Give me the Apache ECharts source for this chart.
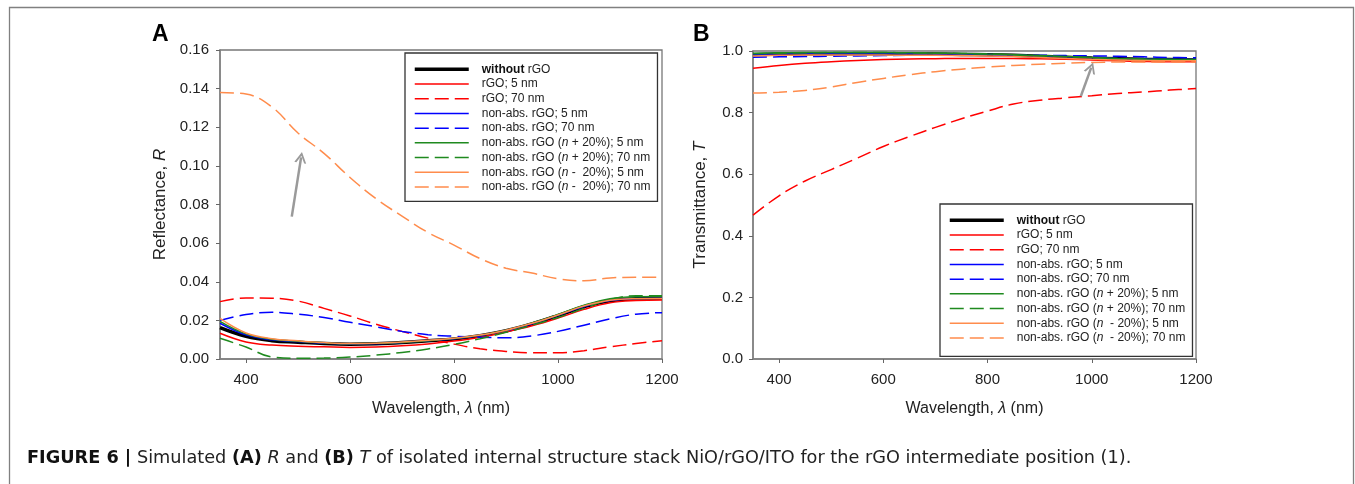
<!DOCTYPE html>
<html>
<head>
<meta charset="utf-8">
<script src="https://cdn.jsdelivr.net/npm/echarts@6/dist/echarts.min.js"></script>
<style>
html, body { margin: 0; padding: 0; background: #fff; }
#chart { width: 1355px; height: 484px; }
</style>
</head>
<body>
<div id="chart"></div>
<script>
// wavelength grid (nm)
var waves = [350, 400, 450, 500, 550, 600, 650, 700, 750, 800, 850, 900, 950, 1000, 1050, 1100, 1150, 1200];
var xTicks = [400, 600, 800, 1000, 1200];

// (A) reflectance
var rNone    = [0.0162, 0.0117, 0.0095, 0.0087, 0.0080, 0.0077, 0.0079, 0.0085, 0.0094, 0.0104, 0.0121, 0.0146, 0.0182, 0.0225, 0.0271, 0.0302, 0.0312, 0.0314];
var rRgo5    = [0.0133, 0.0088, 0.0072, 0.0066, 0.0063, 0.0060, 0.0062, 0.0068, 0.0078, 0.0093, 0.0113, 0.0140, 0.0172, 0.0212, 0.0257, 0.0291, 0.0303, 0.0306];
var rRgo70   = [0.0297, 0.0316, 0.0315, 0.0300, 0.0262, 0.0223, 0.0180, 0.0143, 0.0108, 0.0077, 0.0053, 0.0039, 0.0032, 0.0032, 0.0043, 0.0063, 0.0080, 0.0095];
var rNa5     = [0.0185, 0.0125, 0.0099, 0.0090, 0.0082, 0.0078, 0.0080, 0.0086, 0.0095, 0.0105, 0.0122, 0.0147, 0.0183, 0.0226, 0.0272, 0.0303, 0.0313, 0.0315];
var rNa70    = [0.0200, 0.0230, 0.0242, 0.0232, 0.0215, 0.0190, 0.0167, 0.0143, 0.0126, 0.0118, 0.0113, 0.0110, 0.0120, 0.0143, 0.0175, 0.0208, 0.0232, 0.0240];
var rPlus5   = [0.0195, 0.0130, 0.0102, 0.0092, 0.0084, 0.0079, 0.0081, 0.0086, 0.0095, 0.0106, 0.0123, 0.0149, 0.0186, 0.0230, 0.0278, 0.0312, 0.0322, 0.0323];
var rPlus70  = [0.0107, 0.0062, 0.0010, 0.0004, 0.0005, 0.0010, 0.0020, 0.0034, 0.0052, 0.0076, 0.0105, 0.0138, 0.0175, 0.0215, 0.0262, 0.0308, 0.0328, 0.0328];
var rMinus5  = [0.0210, 0.0135, 0.0105, 0.0094, 0.0085, 0.0080, 0.0082, 0.0088, 0.0097, 0.0107, 0.0124, 0.0149, 0.0185, 0.0228, 0.0274, 0.0304, 0.0312, 0.0313];
var rMinus70 = [0.1380, 0.1372, 0.1305, 0.1170, 0.1065, 0.0940, 0.0830, 0.0740, 0.0655, 0.0590, 0.0520, 0.0470, 0.0445, 0.0415, 0.0405, 0.0420, 0.0423, 0.0423];

// (B) transmittance
var tNone    = [0.988, 0.990, 0.991, 0.991, 0.991, 0.991, 0.990, 0.990, 0.989, 0.988, 0.986, 0.983, 0.980, 0.977, 0.975, 0.973, 0.972, 0.971];
var tRgo5    = [0.944, 0.953, 0.960, 0.965, 0.969, 0.972, 0.974, 0.975, 0.976, 0.976, 0.976, 0.975, 0.973, 0.971, 0.968, 0.966, 0.965, 0.965];
var tRgo70   = [0.467, 0.530, 0.578, 0.615, 0.652, 0.690, 0.722, 0.752, 0.780, 0.805, 0.828, 0.840, 0.848, 0.855, 0.862, 0.867, 0.873, 0.878];
var tNa5     = [0.989, 0.991, 0.992, 0.992, 0.992, 0.992, 0.991, 0.991, 0.990, 0.989, 0.987, 0.984, 0.981, 0.978, 0.976, 0.974, 0.973, 0.972];
var tNa70    = [0.980, 0.981, 0.982, 0.983, 0.984, 0.985, 0.986, 0.986, 0.986, 0.986, 0.986, 0.986, 0.985, 0.984, 0.983, 0.981, 0.979, 0.978];
var tPlus5   = [0.993, 0.994, 0.995, 0.995, 0.995, 0.995, 0.994, 0.993, 0.992, 0.990, 0.988, 0.985, 0.982, 0.979, 0.976, 0.974, 0.973, 0.972];
var tPlus70  = [0.991, 0.993, 0.994, 0.995, 0.995, 0.995, 0.994, 0.993, 0.992, 0.990, 0.987, 0.984, 0.981, 0.978, 0.975, 0.973, 0.972, 0.971];
var tMinus5  = [0.984, 0.986, 0.987, 0.987, 0.987, 0.987, 0.986, 0.986, 0.985, 0.984, 0.982, 0.979, 0.976, 0.973, 0.971, 0.969, 0.968, 0.968];
var tMinus70 = [0.864, 0.866, 0.872, 0.883, 0.898, 0.911, 0.923, 0.933, 0.941, 0.948, 0.953, 0.957, 0.960, 0.963, 0.964, 0.964, 0.964, 0.964];

// grey arrows [tail, head] in data units
var arrowA = [[488, 0.0737], [506, 0.1044]];
var arrowB = [[979, 0.853], [999, 0.946]];

var namesA = ['without rGO', 'rGO; 5 nm', 'rGO; 70 nm', 'non-abs. rGO; 5 nm', 'non-abs. rGO; 70 nm',
  'non-abs. rGO (n + 20%); 5 nm', 'non-abs. rGO (n + 20%); 70 nm',
  'non-abs. rGO (n -  20%); 5 nm', 'non-abs. rGO (n -  20%); 70 nm'];
var namesB = ['without rGO', 'rGO; 5 nm', 'rGO; 70 nm', 'non-abs. rGO; 5 nm', 'non-abs. rGO; 70 nm',
  'non-abs. rGO (n + 20%); 5 nm', 'non-abs. rGO (n + 20%); 70 nm',
  'non-abs. rGO (n  - 20%); 5 nm', 'non-abs. rGO (n  - 20%); 70 nm'];
var dataA = [rNone, rRgo5, rRgo70, rNa5, rNa70, rPlus5, rPlus70, rMinus5, rMinus70];
var dataB = [tNone, tRgo5, tRgo70, tNa5, tNa70, tPlus5, tPlus70, tMinus5, tMinus70];

var colors = ['#000000', '#ff0000', '#ff0000', '#0000ff', '#0000ff', '#1f8a1f', '#1f8a1f', '#ff8c4c', '#ff8c4c'];
var dashed = [false, false, true, false, true, false, true, false, true];
var FONT = "'Liberation Sans', Arial, sans-serif";
var CAPFONT = "'DejaVu Sans', sans-serif";
var chevron = 'path://M0,10 L5,0 L10,10 L8.3,10 L5,3.4 L1.7,10 Z';

var myChart = echarts.init(document.getElementById('chart'));

function pairs(vals) {
  var out = [];
  for (var i = 0; i < waves.length; i++) out.push([waves[i], vals[i]]);
  return out;
}

function makeSeries(names, data, idx, arrow) {
  var list = [];
  for (var i = 0; i < names.length; i++) {
    var s = {
      name: names[i],
      type: 'line',
      xAxisIndex: idx,
      yAxisIndex: idx,
      data: pairs(data[i]),
      smooth: 0.4,
      showSymbol: false,
      symbol: 'none',
      lineStyle: {
        color: colors[i],
        width: i === 0 ? 3.5 : 1.5,
        type: dashed[i] ? [14, 6] : 'solid'
      },
      itemStyle: { color: colors[i] },
      silent: true
    };
    if (i === names.length - 1) {
      s.markLine = {
        silent: true,
        symbol: ['none', chevron],
        symbolSize: [12, 11],
        label: { show: false },
        lineStyle: { color: '#9a9a9a', width: 2.5, type: 'solid' },
        data: [[{ coord: arrow[0] }, { coord: arrow[1] }]]
      };
    }
    list.push(s);
  }
  return list;
}

function legendFmt(name) {
  return name.replace('without', '{b|without}').replace('(n', '({i|n}');
}

function legendFor(names, left, top, pad) {
  return {
    orient: 'vertical',
    left: left,
    top: top,
    data: names,
    selectedMode: false,
    itemWidth: 54,
    itemHeight: 10,
    itemGap: 0,
    padding: pad,
    backgroundColor: '#fff',
    borderColor: '#333',
    borderWidth: 1.3,
    itemStyle: { opacity: 0 },
    lineStyle: { width: 'inherit' },
    formatter: legendFmt,
    textStyle: {
      fontFamily: FONT, fontSize: 12, color: '#222', lineHeight: 14.7, padding: [0, 0, 0, 8],
      rich: {
        b: { fontFamily: FONT, fontSize: 12, fontWeight: 'bold', color: '#111', lineHeight: 14.7 },
        i: { fontFamily: FONT, fontSize: 12, fontStyle: 'italic', color: '#222', lineHeight: 14.7 }
      }
    }
  };
}

function xAxisFor(idx) {
  return {
    type: 'value', gridIndex: idx, min: 350, max: 1200,
    name: 'Wavelength, {i|λ} (nm)', nameLocation: 'middle', nameGap: 42,
    nameTextStyle: { fontFamily: FONT, fontSize: 16, color: '#222',
      rich: { i: { fontFamily: FONT, fontSize: 16, fontStyle: 'italic', color: '#222' } } },
    axisLine: { lineStyle: { color: '#808080', width: 1.5 } },
    axisTick: { show: true, length: 4, lineStyle: { color: '#666' }, customValues: xTicks },
    axisLabel: { customValues: xTicks, fontFamily: FONT, fontSize: 15, color: '#222', margin: 13,
      formatter: function (v) { return String(v); } },
    splitLine: { show: false }
  };
}

function yAxisFor(idx, max, step, digits, label, sym, gap, margin) {
  return {
    type: 'value', gridIndex: idx, min: 0, max: max, interval: step,
    name: label + '{i|' + sym + '}', nameLocation: 'middle', nameGap: gap,
    nameTextStyle: { fontFamily: FONT, fontSize: 17, color: '#222',
      rich: { i: { fontFamily: FONT, fontSize: 17, fontStyle: 'italic', color: '#222' } } },
    axisLine: { show: true, lineStyle: { color: '#808080', width: 1.5 } },
    axisTick: { show: true, length: 4, lineStyle: { color: '#666' } },
    axisLabel: { fontFamily: FONT, fontSize: 15, color: '#222', margin: margin,
      formatter: function (v) { return v.toFixed(digits); } },
    splitLine: { show: false }
  };
}

var option = {
  animation: false,
  backgroundColor: '#fff',
  title: [
    { text: 'A', left: 152, top: 23, padding: 0, textStyle: { fontFamily: FONT, fontSize: 23, fontWeight: 'bold', color: '#000' } },
    { text: 'B', left: 693, top: 23, padding: 0, textStyle: { fontFamily: FONT, fontSize: 23, fontWeight: 'bold', color: '#000' } },
    {
      text: '{b|FIGURE 6 |} Simulated {b|(A)} {i|R} and {b|(B)} {i|T} of isolated internal structure stack NiO/rGO/ITO for the rGO intermediate position (1).',
      left: 27, top: 449, padding: 0,
      textStyle: {
        fontFamily: CAPFONT, fontSize: 17.7, fontWeight: 'normal', color: '#222',
        rich: {
          b: { fontFamily: CAPFONT, fontSize: 17.7, fontWeight: 'bold', color: '#111' },
          i: { fontFamily: CAPFONT, fontSize: 17.7, fontStyle: 'italic', color: '#222' }
        }
      }
    }
  ],
  grid: [
    { left: 220, top: 50, right: 693, bottom: 125, show: true, borderColor: '#777', borderWidth: 1.3 },
    { left: 753, top: 51, right: 159, bottom: 125, show: true, borderColor: '#777', borderWidth: 1.3 }
  ],
  legend: [
    legendFor(namesA, 405, 53, [9, 7, 7, 8]),
    legendFor(namesB, 940, 204, [9, 7, 11, 8])
  ],
  xAxis: [xAxisFor(0), xAxisFor(1)],
  yAxis: [
    yAxisFor(0, 0.16, 0.02, 2, 'Reflectance, ', 'R', 51, 11),
    yAxisFor(1, 1.0, 0.2, 1, 'Transmittance, ', 'T', 44, 10)
  ],
  graphic: [{
    type: 'rect', silent: true, z: -1,
    shape: { x: 9.5, y: 7.5, width: 1344, height: 600 },
    style: { fill: 'none', stroke: '#808080', lineWidth: 1.3 }
  }],
  series: makeSeries(namesA, dataA, 0, arrowA).concat(makeSeries(namesB, dataB, 1, arrowB))
};

myChart.clear();
myChart.setOption(option);
</script>
</body>
</html>
